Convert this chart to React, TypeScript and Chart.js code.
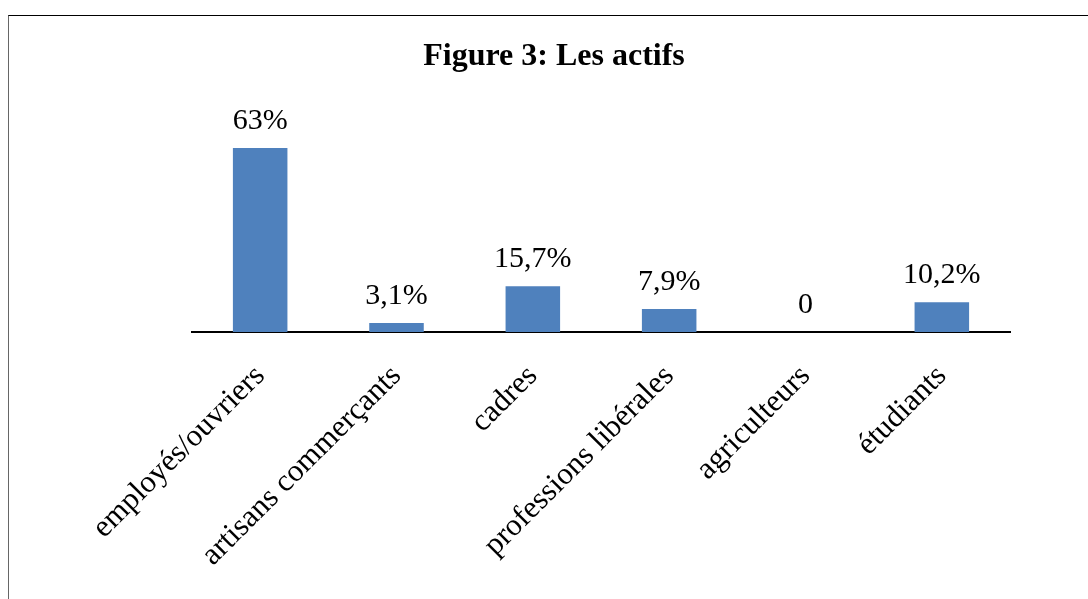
import React, { useEffect, useRef } from "react";
import { Chart, registerables } from "chart.js";

Chart.register(...registerables);

const categories = [
  "employés/ouvriers",
  "artisans commerçants",
  "cadres",
  "professions libérales",
  "agriculteurs",
  "étudiants",
];
const values = [63, 3.1, 15.7, 7.9, 0, 10.2];
const valueLabels = ["63%", "3,1%", "15,7%", "7,9%", "0", "10,2%"];
const titleText = "Figure 3: Les actifs";

const FONT = "'Liberation Serif', 'Times New Roman', serif";

export default function App() {
  const ref = useRef<HTMLCanvasElement | null>(null);

  useEffect(() => {
    const canvas = ref.current;
    if (!canvas) return;

    const overlay = {
      id: "overlay",
      afterDatasetsDraw(chart: any) {
        const ctx = chart.ctx;
        const meta = chart.getDatasetMeta(0);
        ctx.save();
        ctx.fillStyle = "#000";
        ctx.textAlign = "center";
        ctx.textBaseline = "alphabetic";
        ctx.font = `30px ${FONT}`;
        meta.data.forEach((bar: any, i: number) => {
          ctx.fillText(valueLabels[i], bar.x, bar.y - 19);
        });
        ctx.font = `bold 32px ${FONT}`;
        ctx.fillText(titleText, 554, 65);
        ctx.restore();
      },
    };

    const chart = new Chart(canvas, {
      type: "bar",
      data: {
        labels: categories,
        datasets: [
          {
            data: values,
            backgroundColor: "#4F81BD",
            barPercentage: 0.4,
            categoryPercentage: 1,
          },
        ],
      },
      options: {
        animation: false,
        responsive: false,
        maintainAspectRatio: false,
        layout: { padding: { left: 192, right: 78, top: 127.6, bottom: 0 } },
        plugins: {
          legend: { display: false },
          title: { display: false },
          tooltip: { enabled: false },
        },
        scales: {
          x: {
            grid: { display: false, drawTicks: false },
            border: { display: true, color: "#000", width: 2 },
            ticks: {
              autoSkip: false,
              maxRotation: 45,
              minRotation: 45,
              color: "#000",
              padding: 26,
              font: { family: FONT, size: 31 },
            },
            afterFit: (scale: any) => {
              scale.height = 599 - 332;
            },
          },
          y: {
            display: false,
            min: 0,
            max: 70,
          },
        },
      },
      plugins: [overlay],
    });

    return () => chart.destroy();
  }, []);

  return (
    <div style={{ position: "absolute", left: 0, top: 0, width: 1088, height: 599, overflow: "hidden", background: "#fff" }}>
      <div
        style={{
          position: "absolute",
          left: 8,
          top: 15,
          width: 1200,
          height: 700,
          borderLeft: "1px solid #666",
          borderTop: "1px solid #000",
          boxSizing: "border-box",
        }}
      />
      <canvas ref={ref} width={1088} height={599} style={{ position: "absolute", left: 0, top: 0, width: 1088, height: 599 }} />
    </div>
  );
}
